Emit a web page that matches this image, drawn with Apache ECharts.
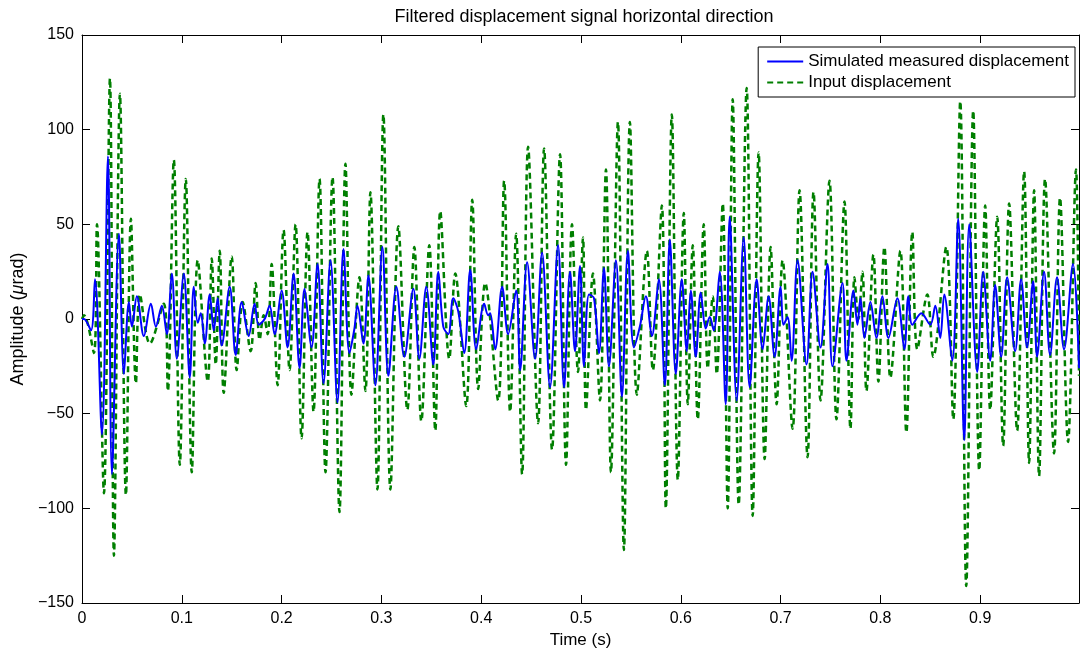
<!DOCTYPE html>
<html>
<head>
<meta charset="utf-8">
<script src="https://cdn.jsdelivr.net/npm/echarts@6/dist/echarts.min.js"></script>
<style>
  html, body { margin: 0; padding: 0; background: #fff; }
  #chart { width: 1080px; height: 654px; }
</style>
</head>
<body>
<div id="chart"></div>
<script>
// extrema (time in s, amplitude in urad)
const inputT = [0, 0.002, 0.012, 0.015, 0.022, 0.028, 0.032, 0.038, 0.044, 0.049, 0.054, 0.058, 0.068, 0.082, 0.086, 0.092, 0.098,
  0.104, 0.110, 0.116, 0.126, 0.130, 0.134, 0.138, 0.142, 0.150, 0.155, 0.161, 0.169, 0.174, 0.178, 0.182, 0.186, 0.190, 0.196,
  0.202, 0.208, 0.214, 0.220, 0.226, 0.232, 0.238, 0.244, 0.251, 0.258, 0.264, 0.270, 0.278, 0.284, 0.289, 0.296,
  0.302, 0.309, 0.317, 0.326, 0.333, 0.340, 0.348, 0.354, 0.359, 0.368, 0.374, 0.385, 0.391, 0.397,
  0.404, 0.417, 0.423, 0.429, 0.435, 0.441, 0.447, 0.457, 0.463, 0.471, 0.479, 0.485, 0.491, 0.497,
  0.502, 0.505, 0.512, 0.519, 0.525, 0.530, 0.537, 0.543, 0.549, 0.556, 0.566, 0.572, 0.581, 0.585, 0.591, 0.597,
  0.603, 0.607, 0.612, 0.617, 0.623, 0.627, 0.632, 0.636, 0.642, 0.647, 0.652, 0.658, 0.666, 0.672, 0.678, 0.684, 0.690, 0.696,
  0.702, 0.712, 0.719, 0.727, 0.733, 0.740, 0.749, 0.756, 0.764, 0.770, 0.774, 0.778, 0.782, 0.786, 0.793, 0.798,
  0.804, 0.810, 0.820, 0.826, 0.832, 0.837, 0.847, 0.853, 0.866, 0.873, 0.880, 0.886, 0.893, 0.899,
  0.905, 0.910, 0.917, 0.923, 0.929, 0.937, 0.944, 0.949, 0.954, 0.959, 0.965, 0.974, 0.980, 0.988, 0.996, 0.999];
const inputV = [0, 2, -18, 50, -92, 127, -125, 119, -93, 53, -34, 13, -13, 8, -38, 84, -77,
  74, -81, 31, -33, 32, -24, 36, -39, 33, -27, 9, -17, 19, -11, 2, -8, 29, -35,
  47, -27, 50, -63, 46, -49, 74, -81, 75, -102, 82, -40, 22, -38, 67, -90,
  108, -90, 49, -48, 38, -54, 39, -59, 57, -21, 24, -46, 63, -37,
  19, -43, 73, -49, 45, -82, 91, -55, 90, -69, 87, -77, 50, -28,
  43, -48, 24, -43, 79, -81, 104, -122, 104, -40, 36, -27, 60, -100, 108, -85,
  56, -45, 39, -53, 50, -26, 12, -29, 61, -100, 116, -98, 122, -104, 88, -74, 38, -45,
  31, -58, 68, -73, 67, -43, 73, -53, 62, -58, 22, 0, 25, -38, 34, -33,
  38, -31, 36, -60, 46, -16, 13, -20, 38, -53, 115, -141, 110, -80,
  60, -48, 54, -67, 61, -59, 78, -76, 68, -83, 74, -71, 64, -65, 79, -30];

const measT = [0, 0.002, 0.009, 0.013, 0.020, 0.026, 0.030, 0.037, 0.042, 0.047, 0.050, 0.055, 0.062, 0.069, 0.074, 0.080, 0.085, 0.090, 0.095,
  0.102, 0.108, 0.112, 0.116, 0.119, 0.123, 0.128, 0.132, 0.136, 0.140, 0.148, 0.154, 0.160, 0.167, 0.173, 0.177, 0.183, 0.188, 0.193,
  0.200, 0.206, 0.212, 0.218, 0.223, 0.230, 0.236, 0.242, 0.249, 0.256, 0.262, 0.268, 0.273, 0.276, 0.282, 0.287, 0.294,
  0.301, 0.307, 0.315, 0.323, 0.332, 0.338, 0.345, 0.352, 0.357, 0.362, 0.367, 0.372, 0.377, 0.383, 0.389, 0.395,
  0.403, 0.407, 0.409, 0.414, 0.421, 0.427, 0.435, 0.439, 0.446, 0.454, 0.461, 0.469, 0.477, 0.483, 0.489, 0.494, 0.499,
  0.503, 0.508, 0.513, 0.518, 0.523, 0.528, 0.535, 0.541, 0.547, 0.553, 0.559, 0.565, 0.571, 0.578, 0.584, 0.589, 0.595,
  0.601, 0.606, 0.610, 0.615, 0.620, 0.625, 0.629, 0.633, 0.639, 0.645, 0.649, 0.656, 0.663, 0.669, 0.676, 0.682, 0.688, 0.694,
  0.700, 0.703, 0.707, 0.711, 0.717, 0.726, 0.732, 0.740, 0.747, 0.752, 0.762, 0.766, 0.773, 0.777, 0.780, 0.784, 0.790, 0.796,
  0.802, 0.808, 0.817, 0.824, 0.828, 0.832, 0.841, 0.850, 0.855, 0.860, 0.864, 0.872, 0.878, 0.884, 0.889, 0.897,
  0.903, 0.910, 0.915, 0.921, 0.927, 0.935, 0.941, 0.947, 0.953, 0.957, 0.964, 0.970, 0.977, 0.984, 0.993, 0.999];
const measV = [0, 0, -6, 21, -61, 86, -82, 45, -29, 9, -4, 12, -9, 8, -4, 7, -8, 24, -21,
  24, -31, 17, -2, 3, -13, 13, -6, 11, -14, 17, -19, 9, -9, 8, -3, 0, 7, -8,
  15, -15, 24, -26, 16, -15, 29, -34, 31, -44, 37, -18, -5, 7, -13, 23, -35,
  38, -30, 17, -20, 16, -21, 17, -24, 25, -4, -8, 11, 4, -18, 26, -16,
  8, 2, 3, -16, 17, -8, 15, -27, 30, -21, 35, -36, 39, -36, 25, -17, 28,
  -25, 13, 11, -18, 27, -25, 31, -41, 36, -15, -4, 12, -9, 21, -35, 42, -29,
  21, -17, 15, -20, 14, -5, 1, -6, 25, -45, 54, -43, 43, -36, 21, -16, 12, -20,
  17, -3, 1, -22, 31, -24, 25, -15, 29, -25, 19, -22, 15, -3, 11, -10, 9, -10,
  12, -10, 11, -16, 12, -3, 3, -3, 7, -10, 13, -22, 53, -64, 50, -28,
  25, -22, 18, -20, 22, -17, 21, -15, 20, -20, 25, -19, 22, -16, 29, -26];

const seriesNames = ['Simulated measured displacement', 'Input displacement'];

const chart = echarts.init(document.getElementById('chart'));
const font = 'Liberation Sans, Arial, sans-serif';
const minus = v => String(v).replace('-', '\u2212');

const axisCommon = {
  axisLine: { show: true, onZero: false, lineStyle: { color: '#000', width: 1 } },
  axisTick: { show: true, inside: true, length: 8, lineStyle: { color: '#000' } },
  splitLine: { show: false }
};

const option = {
  animation: false,
  backgroundColor: '#fff',
  textStyle: { fontFamily: font },
  graphic: [{
    type: 'text', x: 584, y: 17,
    style: {
      text: 'Filtered displacement signal horizontal direction',
      font: '18px ' + font, fill: '#000', align: 'center', verticalAlign: 'middle'
    }
  }],
  legend: {
    data: seriesNames,
    orient: 'vertical',
    right: 5, top: 47,
    backgroundColor: '#fff',
    borderColor: '#000', borderWidth: 1,
    padding: [6, 6, 6, 8],
    itemWidth: 36, itemHeight: 14, itemGap: 4,
    itemStyle: { color: 'transparent', borderWidth: 0 },
    textStyle: { fontSize: 17, fontFamily: font, color: '#000' }
  },
  grid: { left: 82, right: 1, top: 35, bottom: 51 },
  xAxis: [
    Object.assign({
      type: 'value', min: 0, max: 0.999, interval: 0.1,
      name: 'Time (s)', nameLocation: 'middle', nameGap: 29,
      nameTextStyle: { fontSize: 17, color: '#000', fontFamily: font },
      axisLabel: { showMaxLabel: false, margin: 8, fontSize: 16, color: '#000', fontFamily: font, formatter: minus }
    }, axisCommon),
    Object.assign({
      type: 'value', min: 0, max: 0.999, interval: 0.1, position: 'top',
      axisLabel: { show: false }
    }, axisCommon)
  ],
  yAxis: [
    Object.assign({
      type: 'value', min: -150, max: 150, interval: 50,
      name: 'Amplitude ({i|\u03bc}rad)', nameLocation: 'middle', nameGap: 55,
      nameTextStyle: { fontSize: 18, color: '#000', fontFamily: font, rich: { i: { fontStyle: 'italic', fontSize: 18, fontFamily: font } } },
      axisLabel: { margin: 8, fontSize: 16, color: '#000', fontFamily: font, formatter: minus }
    }, axisCommon),
    Object.assign({
      type: 'value', min: -150, max: 150, interval: 50, position: 'right',
      axisLabel: { show: false }
    }, axisCommon)
  ],
  series: [
    {
      name: seriesNames[1],
      type: 'line',
      data: inputT.map((t, i) => [t, inputV[i]]),
      showSymbol: false, symbol: 'none',
      smooth: 0.35,
      lineStyle: { color: '#007f00', width: 2.5, type: [6, 4] },
      itemStyle: { color: '#007f00' },
      z: 2
    },
    {
      name: seriesNames[0],
      type: 'line',
      data: measT.map((t, i) => [t, measV[i]]),
      showSymbol: false, symbol: 'none',
      smooth: 0.35,
      lineStyle: { color: '#0000ff', width: 2 },
      itemStyle: { color: '#0000ff' },
      z: 3
    }
  ]
};

chart.setOption(option);
</script>
</body>
</html>
